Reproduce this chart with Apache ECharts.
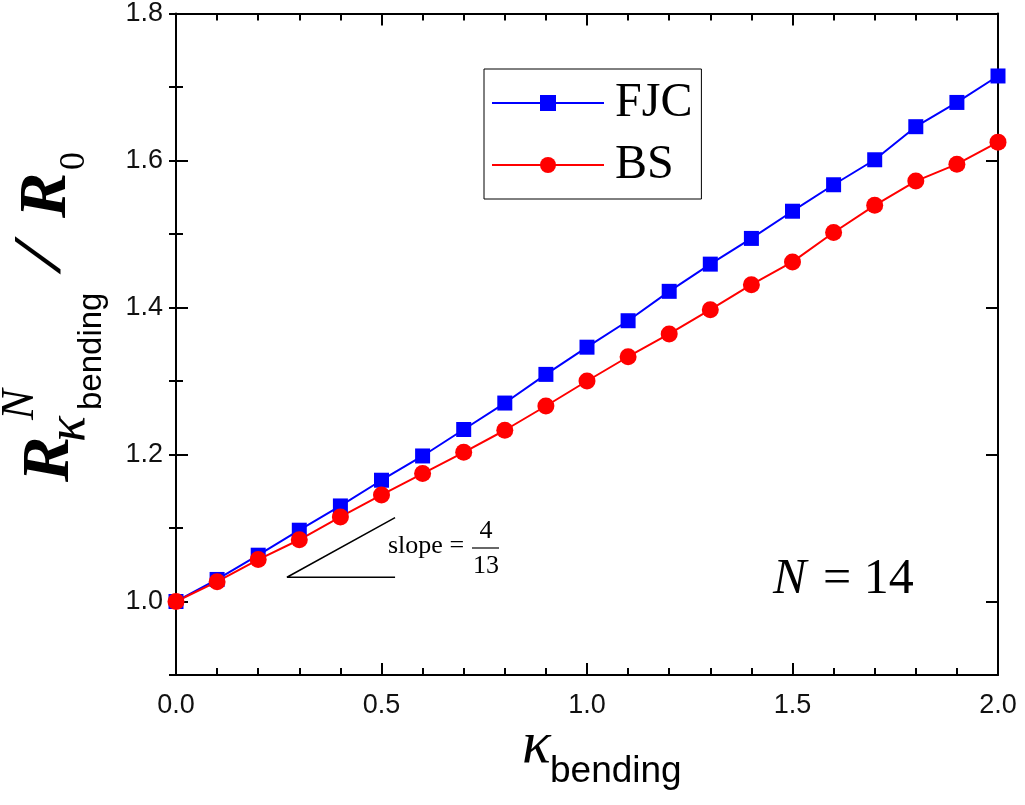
<!DOCTYPE html>
<html>
<head>
<meta charset="utf-8">
<script src="https://cdn.jsdelivr.net/npm/echarts@6/dist/echarts.min.js"></script>
<style>
  html, body { margin: 0; padding: 0; background: #fff; }
  #chart { width: 1025px; height: 805px; }
</style>
</head>
<body>
<div id="chart"></div>
<script>
// kappa_bending values and the two model curves
const kappa = [0, 0.1, 0.2, 0.3, 0.4, 0.5, 0.6, 0.7, 0.8, 0.9, 1.0,
               1.1, 1.2, 1.3, 1.4, 1.5, 1.6, 1.7, 1.8, 1.9, 2.0];
const fjc = [1.000, 1.030, 1.063, 1.097, 1.130, 1.165, 1.198, 1.234, 1.270, 1.309, 1.346,
             1.382, 1.422, 1.459, 1.494, 1.531, 1.567, 1.601, 1.646, 1.679, 1.715];
const bs = [1.000, 1.027, 1.057, 1.084, 1.115, 1.145, 1.174, 1.203, 1.233, 1.266, 1.300,
            1.333, 1.364, 1.397, 1.431, 1.462, 1.502, 1.539, 1.572, 1.595, 1.625];
const seriesNames = ['FJC', 'BS'];

// slope guide triangle (open, no vertical side)
const slopeX = [0.533, 0.27, 0.533];
const slopeY = [1.114, 1.033, 1.033];

const xMin = 0, xMax = 2, xStep = 0.5;
const yMin = 0.9, yMax = 1.8;

const serif = '"Liberation Serif", "Times New Roman", serif';
const sans = '"Liberation Sans", Arial, sans-serif';

const zip = (xs, ys) => xs.map((x, i) => [x, ys[i]]);

const chart = echarts.init(document.getElementById('chart'));

const tickStyle = { color: '#000', width: 2 };

function xAxisCfg(pos, showLabel) {
    return {
        type: 'value', position: pos, min: xMin, max: xMax, interval: xStep,
        axisLine: { show: true, onZero: false, lineStyle: { color: '#000', width: 2 } },
        axisTick: { show: true, inside: true, length: 12, lineStyle: tickStyle },
        minorTick: { show: true, splitNumber: 5, length: 7, lineStyle: tickStyle },
        axisLabel: {
            show: showLabel, margin: 17, color: '#111', fontFamily: sans, fontSize: 27,
            formatter: v => v.toFixed(1)
        },
        splitLine: { show: false }
    };
}

function yAxisCfg(pos, showLabel) {
    return {
        type: 'value', position: pos, min: yMin, max: yMax, splitNumber: 5,
        axisLine: { show: true, onZero: false, lineStyle: { color: '#000', width: 2 } },
        axisTick: { show: true, inside: true, length: 12, lineStyle: tickStyle },
        minorTick: { show: false },
        axisLabel: {
            show: showLabel, margin: 13, color: '#111', fontFamily: sans, fontSize: 27,
            showMinLabel: false,
            formatter: v => v.toFixed(1)
        },
        splitLine: { show: false }
    };
}

// minor ticks every 0.1 on the y axis
function yMinorCfg(pos) {
    return {
        type: 'value', position: pos, min: yMin, max: yMax, interval: 0.1,
        axisLine: { show: false },
        axisTick: { show: true, inside: true, length: 7, lineStyle: tickStyle },
        axisLabel: { show: false },
        splitLine: { show: false }
    };
}

function txt(x, y, text, font, align) {
    return {
        type: 'text', x: x, y: y, silent: true,
        style: { text: text, font: font, fill: '#000', align: align || 'left', verticalAlign: 'middle' }
    };
}

const slash = txt(212, -9, '/', 'italic 68px ' + serif);
slash.scaleX = 1.4;

const option = {
    backgroundColor: '#fff',
    animation: false,
    grid: { left: 176, right: 27, top: 13, bottom: 130 },
    xAxis: [xAxisCfg('bottom', true), xAxisCfg('top', false)],
    yAxis: [yAxisCfg('left', true), yAxisCfg('right', false), yMinorCfg('left'), yMinorCfg('right')],
    legend: {
        orient: 'vertical', left: 484, top: 69,
        itemWidth: 112, itemHeight: 20, itemGap: 14,
        padding: [10, 9, 10, 7],
        borderColor: '#000', borderWidth: 1,
        textStyle: { fontFamily: serif, fontSize: 48, lineHeight: 48, color: '#000', padding: [0, 0, 0, 6] },
        data: seriesNames
    },
    series: [
        {
            name: seriesNames[0], type: 'line', data: zip(kappa, fjc),
            symbol: 'rect', symbolSize: 15,
            lineStyle: { color: '#0000ff', width: 2 },
            itemStyle: { color: '#0000ff' }
        },
        {
            name: seriesNames[1], type: 'line', data: zip(kappa, bs),
            symbol: 'circle', symbolSize: 17,
            lineStyle: { color: '#ff0000', width: 2 },
            itemStyle: { color: '#ff0000' }
        },
        {
            name: 'slope', type: 'line', data: zip(slopeX, slopeY),
            symbol: 'none', silent: true,
            lineStyle: { color: '#000', width: 1.5 }
        }
    ],
    graphic: [
        // y-axis title, rotated
        {
            type: 'group', x: 50, y: 482, rotation: Math.PI / 2, silent: true,
            children: [
                txt(0, 0, 'R', 'italic bold 68px ' + serif),
                txt(62, -29, 'N', 'italic 46px ' + serif),
                txt(40, 20, 'κ', 'italic 54px ' + serif),
                txt(72, 42, 'bending', '33px ' + sans),
                slash,
                txt(264, -3, 'R', 'italic bold 68px ' + serif),
                txt(312, 25, '0', '36px ' + serif)
            ]
        },
        // x-axis title
        txt(522, 746, 'κ', 'italic 60px ' + serif),
        txt(550, 772, 'bending', '37px ' + sans),
        // N = 14
        txt(773, 580, 'N', 'italic 50px ' + serif),
        txt(823, 580, '= 14', '50px ' + serif),
        // slope = 4/13
        txt(388, 546, 'slope =', '26px ' + serif),
        txt(486, 531, '4', '26px ' + serif, 'center'),
        { type: 'line', silent: true, shape: { x1: 472, y1: 548, x2: 499, y2: 548 }, style: { stroke: '#000', lineWidth: 1.2 } },
        txt(486, 566, '13', '26px ' + serif, 'center')
    ]
};

chart.setOption(option);
window.addEventListener('resize', chart.resize, false);
</script>
</body>
</html>
